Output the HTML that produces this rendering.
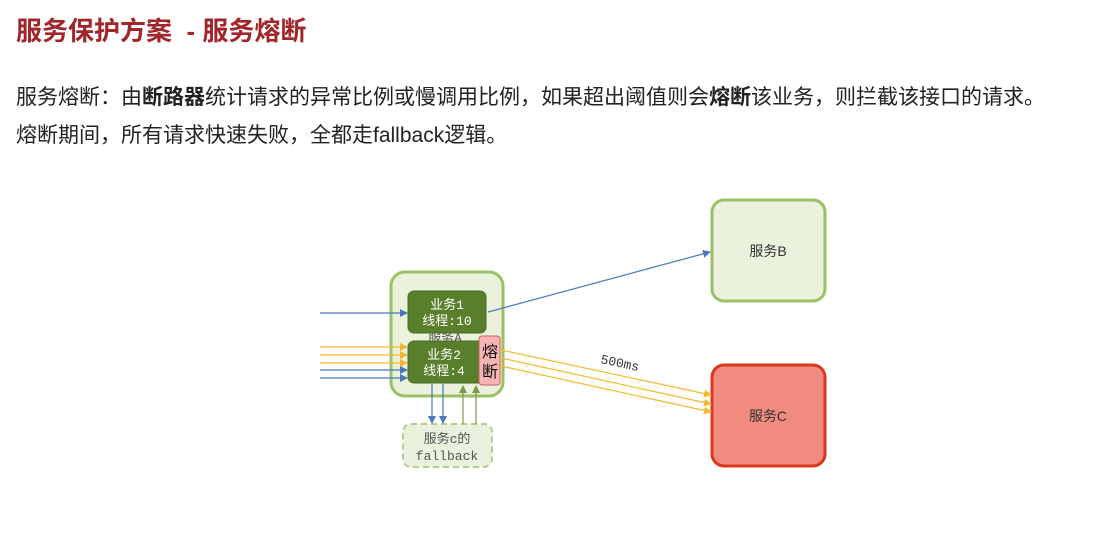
<!DOCTYPE html>
<html><head><meta charset="utf-8"><style>
body{margin:0;width:1104px;height:543px;background:#fff;overflow:hidden;font-family:"Liberation Sans","Noto Sans CJK SC",sans-serif;position:relative}
.t{position:absolute;left:16px;top:11px;font-size:26px;font-weight:bold;color:#a2252a;white-space:pre}
.p{position:absolute;left:16px;font-size:21px;color:#222;white-space:nowrap}
</style></head><body>
<div class="t">服务保护方案  - 服务熔断</div>
<div class="p" style="top:81px">服务熔断：由<b>断路器</b>统计请求的异常比例或慢调用比例，如果超出阈值则会<b>熔断</b>该业务，则拦截该接口的请求。</div>
<div class="p" style="top:119px">熔断期间，所有请求快速失败，全都走fallback逻辑。</div>
<svg width="1104" height="543" style="position:absolute;left:0;top:0" font-family="Liberation Mono,Noto Sans CJK SC,monospace">
<defs>
<marker id="b" markerWidth="8" markerHeight="8" refX="7" refY="4" orient="auto" markerUnits="userSpaceOnUse"><path d="M0,0L8,4L0,8z" fill="#4a78b8"/></marker>
<marker id="y" markerWidth="8" markerHeight="8" refX="7" refY="4" orient="auto" markerUnits="userSpaceOnUse"><path d="M0,0L8,4L0,8z" fill="#f2b92a"/></marker>
<marker id="g" markerWidth="8" markerHeight="8" refX="7" refY="4" orient="auto" markerUnits="userSpaceOnUse"><path d="M0,0L8,4L0,8z" fill="#7a9a4a"/></marker>
</defs>
<rect x="712" y="200" width="113" height="101" rx="12" fill="#eaf1dc" stroke="#9cc063" stroke-width="3"/>
<text x="768" y="256" text-anchor="middle" font-size="14" fill="#333" font-family="Liberation Sans,Noto Sans CJK SC,sans-serif">服务B</text>
<rect x="712" y="365" width="113" height="101" rx="12" fill="#f28b7f" stroke="#d9381e" stroke-width="3"/>
<text x="768" y="421" text-anchor="middle" font-size="14" fill="#333" font-family="Liberation Sans,Noto Sans CJK SC,sans-serif">服务C</text>
<rect x="391" y="272" width="112" height="124" rx="14" fill="#eaf1dc" stroke="#9cc063" stroke-width="3"/>
<text x="445" y="342" text-anchor="middle" font-size="13" fill="#555">服务A</text>
<rect x="408" y="291" width="78" height="42" rx="6" fill="#5a7f2c" stroke="#4a6e22"/>
<text x="447" y="309" text-anchor="middle" font-size="13" fill="#fff">业务1</text>
<text x="447" y="325" text-anchor="middle" font-size="13" fill="#fff">线程:10</text>
<rect x="408" y="341" width="76" height="42" rx="6" fill="#5a7f2c" stroke="#4a6e22"/>
<text x="444" y="359" text-anchor="middle" font-size="13" fill="#fff">业务2</text>
<text x="444" y="375" text-anchor="middle" font-size="13" fill="#fff">线程:4</text>
<rect x="479" y="336" width="21" height="49" rx="3" fill="#f6b4b4" stroke="#c96060"/>
<text x="490" y="357" text-anchor="middle" font-size="16" fill="#111" font-family="Liberation Sans,Noto Sans CJK SC,sans-serif">熔</text>
<text x="490" y="377" text-anchor="middle" font-size="16" fill="#111" font-family="Liberation Sans,Noto Sans CJK SC,sans-serif">断</text>
<rect x="403" y="424" width="89" height="43" rx="8" fill="#eaf1dc" stroke="#b5cc8f" stroke-width="2" stroke-dasharray="6,4"/>
<text x="447" y="443" text-anchor="middle" font-size="13" fill="#555">服务c的</text>
<text x="447" y="460" text-anchor="middle" font-size="13" fill="#555">fallback</text>
<g stroke-width="1.2">
<line x1="320" y1="313" x2="407" y2="313" stroke="#4a78b8" marker-end="url(#b)"/>
<line x1="320" y1="347" x2="407" y2="347" stroke="#f2b92a" marker-end="url(#y)"/>
<line x1="320" y1="355" x2="407" y2="355" stroke="#f2b92a" marker-end="url(#y)"/>
<line x1="320" y1="363" x2="407" y2="363" stroke="#f2b92a" marker-end="url(#y)"/>
<line x1="320" y1="370" x2="407" y2="370" stroke="#4a78b8" marker-end="url(#b)"/>
<line x1="320" y1="378" x2="407" y2="378" stroke="#4a78b8" marker-end="url(#b)"/>
<line x1="488" y1="312" x2="710" y2="252" stroke="#4a78b8" marker-end="url(#b)"/>
<line x1="501" y1="350" x2="711" y2="395" stroke="#f2b92a" marker-end="url(#y)"/>
<line x1="501" y1="358" x2="711" y2="404" stroke="#f2b92a" marker-end="url(#y)"/>
<line x1="501" y1="366" x2="711" y2="412" stroke="#f2b92a" marker-end="url(#y)"/>
<line x1="432" y1="384" x2="432" y2="423" stroke="#4a78b8" marker-end="url(#b)"/>
<line x1="443" y1="384" x2="443" y2="423" stroke="#4a78b8" marker-end="url(#b)"/>
<line x1="463" y1="424" x2="463" y2="386" stroke="#7a9a4a" marker-end="url(#g)"/>
<line x1="476" y1="424" x2="476" y2="386" stroke="#7a9a4a" marker-end="url(#g)"/>
</g>
<text x="600" y="363" font-size="13" fill="#333" transform="rotate(12 600 363)">500ms</text>
</svg>
</body></html>
